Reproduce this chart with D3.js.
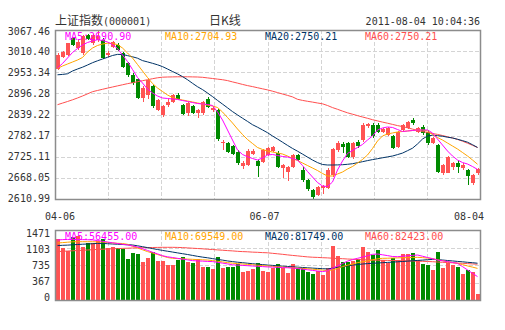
<!DOCTYPE html>
<html><head><meta charset="utf-8">
<script src="https://cdn.jsdelivr.net/npm/d3@7"></script>
<style>
html,body{margin:0;padding:0;background:#fff;}
svg{display:block;}
</style></head>
<body>
<svg id="c" width="505" height="330"></svg>
<script>
const dates = ["04-06","04-07","04-08","04-11","04-12","04-13","04-14","04-15","04-18","04-19","04-20","04-21","04-22","04-25","04-26","04-27","04-28","04-29",
"05-03","05-04","05-05","05-06","05-09","05-10","05-11","05-12","05-13","05-16","05-17","05-18","05-19","05-20","05-23","05-24","05-25","05-26","05-27","05-30","05-31",
"06-01","06-02","06-03","06-07","06-08","06-09","06-10","06-13","06-14","06-15","06-16","06-17","06-20","06-21","06-22","06-23","06-24","06-27","06-28","06-29","06-30",
"07-01","07-04","07-05","07-06","07-07","07-08","07-11","07-12","07-13","07-14","07-15","07-18","07-19","07-20","07-21","07-22","07-25","07-26","07-27","07-28","07-29",
"08-01","08-02","08-03","08-04"];

const open  = [2963,2995,3000,3045,3018,3004,3054,3031,3040,3041,3000,3022,3027,3004,2977,2947,2934,2884,2893,2915,2851,2838,2865,2874,2892,2865,2842,2862,2844,2842,2880,2852,2851,2762,2761,2754,2739,2700,2703,2733,2714,2712,2730,2741,2734,2694,2685,2698,2730,2689,2662,2635,2622,2642,2642,2675,2743,2760,2762,2725,2766,2770,2808,2811,2811,2793,2784,2781,2752,2797,2802,2825,2793,2806,2793,2763,2757,2680,2682,2698,2707,2694,2689,2653,2680];
const high  = [3004,3012,3033,3048,3040,3053,3056,3056,3067.46,3045,3010,3038,3031,3007,2980,2950,2937,2915,2937,2918,2882,2866,2880,2895,2896,2867,2874,2866,2855,2877,2886,2862,2853,2770,2764,2757,2742,2714,2745,2747,2717,2746,2752,2755,2740,2706,2701,2733,2733,2698,2665,2638,2646,2650,2694,2748,2768,2766,2765,2765,2770,2815,2816,2815,2815,2803,2806,2785,2796,2814,2823,2829,2806,2812,2797,2779,2760,2706,2727,2712,2716,2708,2692,2679,2694];
const low   = [2960,2992,2997,3024,3014,3000,3040,3028,3035,2988,2995,3018,3010,2964,2940,2920,2880,2872,2880,2858,2848,2832,2860,2870,2878,2838,2835,2840,2829,2839,2856,2846,2768,2743,2736,2730,2704,2691,2700,2730,2671,2709,2726,2737,2695,2668,2660,2694,2713,2658,2633,2610.99,2618,2625,2638,2670,2738,2734,2721,2720,2750,2766,2804,2776,2790,2790,2780,2747,2749,2794,2799,2812,2790,2784,2758,2760,2681,2677,2680,2690,2681,2690,2648,2650,2676];
const close = [3001,3009,3031,3027,3036,3051,3042,3054,3051,2991,3004,3035,3013,2968,2945,2924,2884,2912,2933,2862,2878,2862,2874,2892,2880,2841,2871,2844,2851,2874,2859,2858,2772,2766,2739,2733,2707,2707,2741,2741,2700,2743,2748,2752,2698,2703,2698,2730,2716,2662,2637,2617,2643,2645,2690,2745,2762,2752,2725,2762,2754,2811,2813,2780,2793,2799,2802,2750,2793,2811,2820,2817,2802,2788,2762,2776,2685,2703,2724,2707,2698,2703,2673,2676,2691];
const volume = [1281,1099,1029,1330,1345,1120,1191,1191,1240,1275,1099,1120,1086,1071,855,981,960,805,889,1015,819,819,735,735,840,910,805,770,861,700,686,651,910,679,686,686,756,595,616,644,784,616,595,665,756,665,574,756,665,665,595,546,609,525,679,1141,924,805,791,819,855,1107,1008,945,1050,840,784,889,840,960,966,994,840,756,735,630,1008,665,770,735,700,546,630,595,126];

const ma5  = [2964.8,2977.0,2991.8,3006.7,3017.5,3027.0,3033.7,3037.8,3041.3,3039.1,3035.1,3028.3,3017.5,2999.9,2982.4,2960.8,2939.2,2924.3,2908.1,2897.3,2889.2,2883.8,2882.5,2881.1,2879.8,2877.0,2874.3,2871.6,2868.9,2867.6,2866.2,2863.5,2846.0,2824.4,2797.4,2770.3,2743.3,2731.2,2725.2,2720.4,2716.3,2721.7,2729.8,2731.2,2728.5,2725.8,2724.4,2720.4,2716.3,2701.4,2685.3,2670.4,2655.5,2646.1,2644.7,2656.9,2689.3,2713.6,2734.0,2742.0,2750.1,2758.3,2770.3,2781.2,2797.4,2802.8,2805.5,2804.2,2798.7,2793.3,2794.7,2796.0,2797.4,2797.4,2797.4,2789.3,2773.0,2756.8,2740.6,2727.1,2716.3,2709.5,2705.5,2698.7,2690.9];
const ma10 = [2963.5,2970.2,2975.6,2981.0,2986.4,2993.2,3008.0,3018.8,3025.6,3029.6,3031.8,3031.0,3028.0,3018.8,3005.3,2991.8,2974.3,2956.7,2939.2,2923.0,2910.8,2901.4,2891.9,2885.1,2881.1,2878.4,2875.7,2873.0,2870.3,2867.6,2864.3,2862.2,2858.1,2846.0,2831.1,2816.3,2800.1,2785.2,2771.7,2760.9,2750.1,2744.7,2740.6,2737.9,2735.2,2732.5,2727.1,2720.4,2715.0,2708.2,2701.4,2694.7,2687.9,2679.9,2673.1,2673.1,2678.5,2683.9,2692.0,2698.8,2708.2,2717.7,2729.8,2747.4,2767.6,2781.2,2786.6,2789.3,2792.0,2793.3,2794.7,2796.0,2797.4,2797.4,2794.7,2785.2,2777.1,2770.3,2762.2,2754.1,2746.0,2736.6,2727.1,2716.3,2704.93];
const ma20 = [2946.5,2947.5,2949.2,2956.7,2962.1,2967.0,2972.9,2979.1,2984.3,2989.1,2993.7,2998.6,3001.6,3001.3,2998.3,2995.1,2991.3,2984.8,2981.3,2977.5,2973.5,2968.6,2962.1,2955.4,2948.9,2941.6,2933.2,2923.5,2914.3,2906.5,2897.3,2887.6,2877.3,2867.3,2857.3,2847.1,2838.1,2829.2,2820.6,2811.7,2804.9,2797.6,2790.1,2781.2,2773.0,2764.4,2755.8,2747.6,2740.1,2732.3,2724.2,2716.3,2709.3,2704.2,2702.8,2702.8,2703.1,2703.6,2704.7,2706.3,2709.0,2711.8,2714.7,2717.4,2719.8,2722.3,2724.7,2727.1,2730.9,2735.0,2741.5,2748.2,2759.6,2773.0,2781.2,2783.3,2782.0,2780.6,2777.9,2775.8,2772.3,2768.7,2764.4,2757.6,2750.21];
const ma60 = [2865.7,2870.0,2874.3,2878.9,2883.8,2889.2,2894.9,2900.8,2904.1,2907.3,2910.5,2913.5,2916.5,2919.5,2922.5,2925.1,2927.8,2930.5,2933.2,2935.9,2938.4,2940.0,2940.5,2940.8,2941.1,2941.1,2941.1,2940.8,2940.5,2939.7,2938.1,2936.5,2934.8,2933.2,2930.8,2927.3,2924.0,2920.5,2917.3,2914.6,2911.6,2908.6,2905.7,2902.2,2898.4,2894.6,2890.8,2886.8,2880.3,2877.3,2874.9,2872.7,2870.3,2868.1,2863.5,2857.9,2853.3,2848.4,2843.8,2840.0,2836.2,2832.5,2829.0,2825.2,2822.0,2818.7,2815.7,2812.5,2809.3,2806.6,2803.3,2799.8,2796.3,2793.3,2790.6,2787.9,2785.5,2782.5,2779.0,2775.8,2772.0,2767.1,2761.7,2756.0,2750.21];

const vma5  = [1261,1269,1273,1273,1271,1269,1267,1263,1250,1233,1219,1202,1187,1170,1156,1137,1114,1078,1042,1004,969,931,907,893,876,859,843,828,821,817,811,807,792,775,758,740,733,727,721,714,708,702,695,691,687,681,677,672,662,647,635,622,609,597,613,666,716,767,817,849,876,901,929,960,966,950,933,914,910,920,929,937,945,920,893,868,840,824,807,788,771,702,632,561,492];
const vma10 = [1198,1206,1214,1223,1225,1225,1225,1225,1221,1217,1210,1200,1191,1187,1170,1130,1093,1055,1017,987,956,924,893,876,870,866,859,855,849,845,840,828,813,800,786,773,765,756,748,740,731,723,714,706,700,691,685,677,670,664,656,647,639,628,618,632,662,702,731,754,786,803,819,845,866,876,878,882,885,889,891,895,897,891,880,872,845,826,807,788,769,744,716,691,664];
const vma20 = [1143,1149,1153,1160,1166,1172,1177,1183,1189,1189,1183,1177,1172,1166,1162,1156,1139,1120,1101,1080,1061,1042,1025,1008,990,973,956,937,918,901,887,870,853,838,821,807,794,784,773,763,752,744,735,727,719,712,704,698,691,683,677,670,664,658,653,668,685,702,716,733,746,756,765,771,777,784,790,796,803,809,817,824,832,838,847,853,849,840,830,821,811,803,792,784,773];
const vma60 = [1017,1023,1029,1034,1040,1044,1051,1057,1063,1067,1072,1076,1080,1084,1088,1093,1097,1099,1101,1103,1105,1107,1107,1107,1105,1101,1095,1088,1082,1076,1067,1061,1053,1046,1038,1032,1023,1017,1013,1006,1002,996,992,981,971,960,948,937,927,916,906,899,895,889,885,878,872,868,861,857,851,847,842,838,836,834,832,830,828,826,821,819,815,813,809,805,798,792,788,782,775,771,765,758,752];

const priceTicks = [3067.46,3010.40,2953.34,2896.28,2839.22,2782.17,2725.11,2668.05,2610.99];
const volTicks = [1471,1103,735,367,0];
const dateTicks = ["04-06","06-07","08-04"];
const legendPrice = ["MA5:2690.90","MA10:2704.93","MA20:2750.21","MA60:2750.21"];
const legendVol = ["MA5:56455.00","MA10:69549.00","MA20:81749.00","MA60:82423.00"];
const titleCn = "上证指数";
const titleCode = "(000001)";
const titleMid = "日K线";
const timeStamp = "2011-08-04 10:04:36";

const maColors = ["#ff00ff","#ffa500","#003366","#ff4f4f"];
const UP = "#ff5353", DOWN = "#008a00";
const MONO = "'DejaVu Sans Mono', monospace";
const CJK = "'Noto Sans CJK SC', sans-serif";

const svg = d3.select("#c");
const L = 55, R = 480;
const mainTop = 30, mainBot = 199;
const volTop = 230, volBot = 300;

const x = d3.scaleBand().domain(dates).range([L, R]).padding(0);
const cx = d => x(d) + 2.5;
const y = d3.scaleLinear().domain([2610.99, 3067.46]).range([mainBot, mainTop]);
const yv = d3.scaleLinear().domain([0, 1471]).range([volBot, volTop]);
const yLab = d3.scaleLinear().domain([2610.99, 3067.46]).range([mainBot - 1, mainTop + 1]);
const yvLab = d3.scaleLinear().domain([0, 1471]).range([volBot - 3, volTop + 3]);

// title
const t = svg.append("text").attr("x", L).attr("y", 25).attr("fill", "#333");
t.append("tspan").attr("font-family", CJK).attr("font-size", 12).text(titleCn);
t.append("tspan").attr("font-family", MONO).attr("font-size", 10).text(titleCode);
svg.append("text").attr("x", 225).attr("y", 25).attr("text-anchor", "middle")
  .attr("font-family", CJK).attr("font-size", 12).attr("fill", "#333").text(titleMid);
svg.append("text").attr("x", R).attr("y", 25).attr("text-anchor", "end")
  .attr("font-family", MONO).attr("font-size", 10).attr("fill", "#333").text(timeStamp);

function grid(top, bot, yTicks, ys) {
  const g = svg.append("g").attr("stroke", "#d4d4d4").attr("stroke-dasharray", "4,2").attr("shape-rendering", "crispEdges");
  yTicks.slice(1, -1).forEach(v => {
    const yy = Math.round(ys(v)) + 0.5;
    g.append("line").attr("x1", L).attr("x2", R).attr("y1", yy).attr("y2", yy);
  });
  for (let k = 1; k < 8; k++) {
    const xx = Math.round(L + k * (R - L) / 8) + 0.5;
    g.append("line").attr("x1", xx).attr("x2", xx).attr("y1", top).attr("y2", bot);
  }
}
grid(mainTop, mainBot, priceTicks, y);
grid(volTop, volBot, volTicks, yv);

// y labels
svg.append("g").selectAll("text").data(priceTicks).join("text")
  .attr("x", 50).attr("y", d => yLab(d)).attr("dy", "0.35em").attr("text-anchor", "end")
  .attr("font-family", MONO).attr("font-size", 10).attr("fill", "#333").text(d => d.toFixed(2));
svg.append("g").selectAll("text").data(volTicks).join("text")
  .attr("x", 50).attr("y", d => yvLab(d)).attr("dy", "0.35em").attr("text-anchor", "end")
  .attr("font-family", MONO).attr("font-size", 10).attr("fill", "#333").text(d => d);

// date labels
svg.append("g").selectAll("text").data(dateTicks).join("text")
  .attr("x", d => { const c = cx(d) - 3; return Math.min(Math.max(c, 45 + 15), 484 - 15); })
  .attr("y", 216.5).attr("dy", "0.35em").attr("text-anchor", "middle")
  .attr("font-family", MONO).attr("font-size", 10).attr("fill", "#333").text(d => d);

// candles
const idx = d3.range(dates.length);
const cg = svg.append("g").attr("shape-rendering", "crispEdges");
cg.selectAll("line").data(idx).join("line")
  .attr("x1", i => x(dates[i]) + 3.5).attr("x2", i => x(dates[i]) + 3.5)
  .attr("y1", i => y(high[i])).attr("y2", i => y(low[i]))
  .attr("stroke", i => close[i] >= open[i] ? UP : DOWN).attr("stroke-width", 1);
cg.selectAll("rect").data(idx).join("rect")
  .attr("x", i => x(dates[i]) + 1).attr("width", 4)
  .attr("y", i => y(Math.max(open[i], close[i])))
  .attr("height", i => Math.max(1, Math.abs(y(open[i]) - y(close[i]))))
  .attr("fill", i => close[i] >= open[i] ? UP : DOWN);

// volume bars
svg.append("g").attr("shape-rendering", "crispEdges").selectAll("rect").data(idx).join("rect")
  .attr("x", i => x(dates[i]) + 1).attr("width", 4)
  .attr("y", i => yv(volume[i])).attr("height", i => volBot - yv(volume[i]))
  .attr("fill", i => close[i] >= open[i] ? UP : DOWN);

// MA lines
function maLine(arr, ys, color) {
  svg.append("path").datum(idx)
    .attr("d", d3.line().x(i => cx(dates[i])).y(i => ys(arr[i])))
    .attr("fill", "none").attr("stroke", color).attr("stroke-width", 1);
}
[ma60, ma20, ma10, ma5].forEach((a, k) => maLine(a, y, maColors[3 - k]));
[vma60, vma20, vma10, vma5].forEach((a, k) => maLine(a, yv, maColors[3 - k]));

// borders
svg.append("rect").attr("x", L + 0.5).attr("y", mainTop + 0.5).attr("width", R - L).attr("height", mainBot - mainTop)
  .attr("fill", "none").attr("stroke", "#8c8c8c").attr("stroke-width", 1.5);
svg.append("rect").attr("x", L + 0.5).attr("y", volTop + 0.5).attr("width", R - L).attr("height", volBot - volTop)
  .attr("fill", "none").attr("stroke", "#8c8c8c").attr("stroke-width", 1.5);

// legends
const legX = [65, 165, 265, 365];
svg.append("g").selectAll("text").data(legendPrice).join("text")
  .attr("x", (d, k) => legX[k]).attr("y", 36.5).attr("dy", "0.35em")
  .attr("font-family", MONO).attr("font-size", 10).attr("fill", (d, k) => maColors[k]).text(d => d);
svg.append("g").selectAll("text").data(legendVol).join("text")
  .attr("x", (d, k) => legX[k]).attr("y", 236.7).attr("dy", "0.35em")
  .attr("font-family", MONO).attr("font-size", 10).attr("fill", (d, k) => maColors[k]).text(d => d);
</script>
</body></html>
